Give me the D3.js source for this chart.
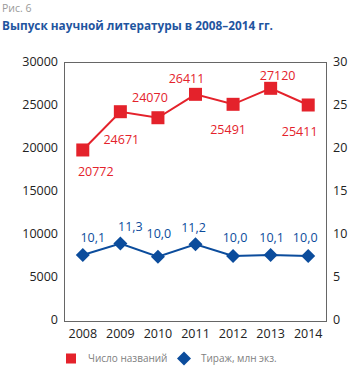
<!DOCTYPE html>
<html><head><meta charset="utf-8">
<script src="https://cdn.jsdelivr.net/npm/d3@7/dist/d3.min.js"></script>
<style>body{margin:0;background:#fff}svg{display:block}</style>
</head><body>
<script>
const years = ["2008","2009","2010","2011","2012","2013","2014"];
// plotted positions (left axis)
const titlesPlotted = [19770, 24220, 23520, 26240, 25080, 26940, 25000];
// data labels printed on the picture
const titlesLabels = ["20772","24671","24070","26411","25491","27120","25411"];
// plotted positions (right axis)
const printPlotted = [7.55, 8.9, 7.35, 8.8, 7.45, 7.55, 7.45];
const printLabels = ["10,1","11,3","10,0","11,2","10,0","10,1","10,0"];
const leftTicks = [0,5000,10000,15000,20000,25000,30000];
const rightTicks = [0,5,10,15,20,25,30];
const seriesNames = ["Число названий","Тираж, млн экз."];

const W=350,H=367;
const red="#e4222b", blue="#0b4c9c";
const font="'Open Sans', sans-serif";
const svg=d3.select("body").append("svg").attr("width",W).attr("height",H);

const x=d3.scaleBand().domain(years).range([64,327]);
const yL=d3.scaleLinear().domain([0,30000]).range([320,62]);
const yR=d3.scaleLinear().domain([0,30]).range([320,62]);
const cx=d=>x(d)+x.bandwidth()/2;

svg.append("text").attr("x",2).attr("y",12).attr("font-family",font).attr("font-size",10.5)
  .attr("fill","#9a9a9a").text("Рис. 6");
svg.append("text").attr("x",2).attr("y",30).attr("font-family",font).attr("font-size",11.8)
  .attr("font-weight","bold").attr("fill","#1f55a0").text("Выпуск научной литературы в 2008–2014 гг.");

svg.append("rect").attr("x",64.5).attr("y",62.5).attr("width",262).attr("height",259)
  .attr("fill","none").attr("stroke","#666").attr("stroke-width",1);

svg.append("g").selectAll("text").data(leftTicks).join("text")
  .attr("x",58).attr("y",d=>yL(d)).attr("dy","0.35em").attr("text-anchor","end")
  .attr("font-family",font).attr("font-size",12.5).attr("fill","#222").text(d=>d);
svg.append("g").selectAll("text").data(rightTicks).join("text")
  .attr("x",333).attr("y",d=>yR(d)).attr("dy","0.35em").attr("text-anchor","start")
  .attr("font-family",font).attr("font-size",12.5).attr("fill","#222").text(d=>d);
svg.append("g").selectAll("text").data(years).join("text")
  .attr("x",d=>cx(d)).attr("y",334).attr("dy","0.35em").attr("text-anchor","middle")
  .attr("font-family",font).attr("font-size",12.5).attr("fill","#222").text(d=>d);

// red series
const redLine=d3.line().x((d,i)=>cx(years[i])).y(d=>yL(d));
svg.append("path").attr("d",redLine(titlesPlotted)).attr("fill","none").attr("stroke",red).attr("stroke-width",2);
svg.append("g").selectAll("rect").data(titlesPlotted).join("rect")
  .attr("x",(d,i)=>cx(years[i])-6.5).attr("y",d=>yL(d)-6.5).attr("width",13).attr("height",13).attr("fill",red);
const redOff=[[13,22],[1,28],[-8,-20],[-9,-16],[-5,25],[7,-13],[-8.5,27]];
svg.append("g").selectAll("text").data(titlesPlotted).join("text")
  .attr("x",(d,i)=>cx(years[i])+redOff[i][0]).attr("y",(d,i)=>yL(d)+redOff[i][1]).attr("dy","0.35em")
  .attr("text-anchor","middle").attr("font-family",font).attr("font-size",12.5).attr("fill",red)
  .text((d,i)=>titlesLabels[i]);

// blue series
const blueLine=d3.line().x((d,i)=>cx(years[i])).y(d=>yR(d));
svg.append("path").attr("d",blueLine(printPlotted)).attr("fill","none").attr("stroke",blue).attr("stroke-width",2);
const dia=(cxp,cyp,r)=>`M${cxp},${cyp-r}L${cxp+r},${cyp}L${cxp},${cyp+r}L${cxp-r},${cyp}Z`;
svg.append("g").selectAll("path").data(printPlotted).join("path")
  .attr("d",(d,i)=>dia(cx(years[i]),yR(d),7)).attr("fill",blue);
const blueOff=[[10,-17],[10,-17],[1,-23],[-2,-17],[2,-18],[1,-17],[-3,-18]];
svg.append("g").selectAll("text").data(printPlotted).join("text")
  .attr("x",(d,i)=>cx(years[i])+blueOff[i][0]).attr("y",(d,i)=>yR(d)+blueOff[i][1]).attr("dy","0.35em")
  .attr("text-anchor","middle").attr("font-family",font).attr("font-size",12.5).attr("fill",blue)
  .text((d,i)=>printLabels[i]);

// legend
svg.append("rect").attr("x",66).attr("y",353.5).attr("width",10).attr("height",10).attr("fill",red);
svg.append("text").attr("x",88).attr("y",358.5).attr("dy","0.35em").attr("font-family",font).attr("font-size",10)
  .attr("fill","#808080").text(seriesNames[0]);
svg.append("path").attr("d",dia(184,358.5,7)).attr("fill",blue);
svg.append("text").attr("x",201).attr("y",358.5).attr("dy","0.35em").attr("font-family",font).attr("font-size",10)
  .attr("fill","#808080").text(seriesNames[1]);
</script>
</body></html>
